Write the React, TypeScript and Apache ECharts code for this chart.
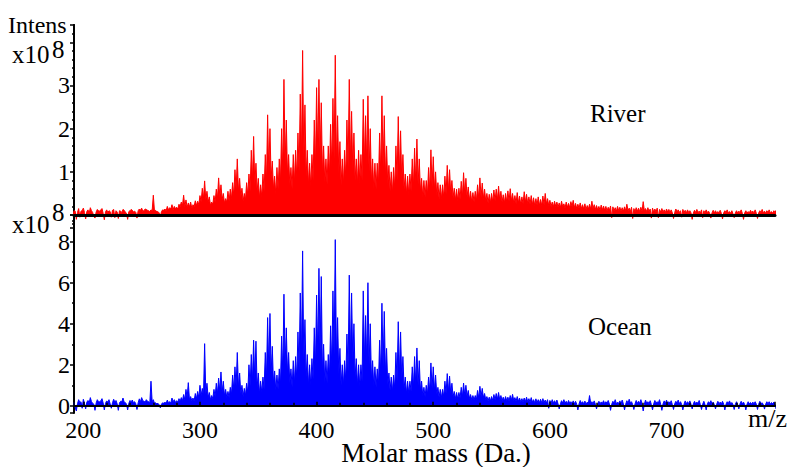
import { useEffect, useRef } from "react";
import * as echarts from "echarts";

// Mass grid of the two spectra (Da): one value every MASS_STEP starting at MASS_START
const MASS_START = 186;
const MASS_STEP = 1;

const X_TICK_LABELS = [200, 300, 400, 500, 600, 700];
const RIVER_TICK_LABELS = [1, 2, 3];
const OCEAN_TICK_LABELS = [0, 2, 4, 6, 8];

// Intensities (x10^8), one row = 14 Da
const RIVER = [
  0.13, 0.04, -0.06, 0.08, 0.16, -0.04, 0.1, 0.09, -0.1, 0.06, 0.15, -0.05, 0.09, 0.1,
  0.16, 0.06, -0.09, 0.08, 0.12, 0.04, 0.17, 0.1, 0.06, -0.03, -0.07, 0.07, 0.13, 0.1,
  0.09, 0.12, 0.15, 0.04, -0.11, 0.07, 0.12, 0.06, 0.1, 0.08, -0.05, 0.11, 0.13, -0.06,
  0.1, 0.07, -0.08, 0.1, 0.09, 0.06, 0.13, 0.11, 0.07, 0.04, -0.1, 0.08, 0.1, 0.13,
  0.11, 0.07, 0.09, 0.06, -0.07, 0.1, 0.14, 0.11, 0.16, 0.09, 0.1, 0.14, 0.13, 0.11,
  0.1, 0.08, 0.12, 0.1, 0.46, 0.09, 0.11, 0.07, 0.08, 0.05, -0.04, 0.08, 0.12, 0.11,
  0.14, 0.1, 0.2, 0.12, 0.17, 0.14, 0.24, 0.13, 0.2, 0.15, 0.18, 0.14, 0.25, 0.2,
  0.3, 0.22, 0.46, 0.2, 0.35, 0.18, 0.28, 0.19, 0.3, 0.16, 0.24, 0.2, 0.33, 0.22,
  0.32, 0.24, 0.45, 0.3, 0.62, 0.38, 0.79, 0.35, 0.55, 0.3, 0.42, 0.22, 0.3, 0.25,
  0.45, 0.3, 0.6, 0.38, 0.86, 0.42, 0.7, 0.36, 0.5, 0.28, 0.38, 0.3, 0.55, 0.32,
  0.6, 0.38, 0.75, 0.45, 1.05, 0.6, 1.3, 0.55, 0.85, 0.42, 0.62, 0.32, 0.5, 0.35,
  0.75, 0.45, 0.95, 0.55, 1.5, 0.8, 1.82, 0.7, 1.2, 0.55, 0.85, 0.4, 0.7, 0.42,
  0.95, 0.55, 1.4, 0.75, 2.32, 1.0, 2.0, 0.85, 1.25, 0.6, 0.9, 0.48, 1.1, 0.6,
  1.3, 0.75, 2.0, 1.0, 3.14, 1.2, 2.2, 0.95, 1.4, 0.7, 1.1, 0.6, 1.4, 0.75,
  1.5, 0.85, 1.9, 1.0, 2.8, 1.35, 3.81, 1.3, 2.55, 0.9, 1.5, 0.7, 1.2, 0.65,
  1.4, 0.8, 2.2, 1.1, 2.95, 1.4, 3.14, 1.35, 2.6, 0.95, 1.6, 0.75, 1.3, 0.7,
  1.6, 0.9, 2.1, 1.1, 2.7, 1.3, 3.7, 1.2, 2.3, 0.95, 1.7, 0.7, 1.3, 0.7,
  1.5, 0.85, 2.2, 1.1, 3.14, 1.25, 2.4, 1.05, 1.9, 0.8, 1.3, 0.7, 1.5, 0.75,
  1.4, 0.8, 2.68, 1.2, 2.3, 1.15, 2.76, 1.0, 2.0, 0.75, 1.3, 0.6, 1.2, 0.6,
  1.2, 0.7, 1.9, 0.95, 2.76, 1.1, 2.3, 0.9, 1.6, 0.7, 1.15, 0.55, 1.0, 0.5,
  1.1, 0.6, 1.6, 0.8, 2.28, 0.95, 1.95, 0.8, 1.4, 0.6, 0.95, 0.48, 0.9, 0.47,
  0.95, 0.55, 1.3, 0.65, 1.55, 0.75, 1.76, 0.7, 1.3, 0.55, 0.85, 0.42, 0.8, 0.42,
  0.8, 0.45, 1.1, 0.55, 1.51, 0.65, 1.35, 0.6, 1.0, 0.45, 0.75, 0.38, 0.7, 0.38,
  0.7, 0.4, 0.9, 0.48, 1.15, 0.55, 1.05, 0.5, 0.8, 0.4, 0.62, 0.34, 0.6, 0.33,
  0.62, 0.36, 0.78, 0.42, 0.98, 0.48, 0.85, 0.42, 0.65, 0.34, 0.55, 0.3, 0.52, 0.3,
  0.55, 0.32, 0.7, 0.38, 0.86, 0.42, 0.74, 0.38, 0.6, 0.32, 0.5, 0.28, 0.48, 0.28,
  0.5, 0.3, 0.58, 0.33, 0.6, 0.35, 0.67, 0.34, 0.55, 0.3, 0.47, 0.28, 0.5, 0.3,
  0.56, 0.32, 0.61, 0.33, 0.5, 0.28, 0.45, 0.27, 0.52, 0.28, 0.44, 0.25, 0.42, 0.26,
  0.54, 0.3, 0.48, 0.26, 0.42, 0.25, 0.45, 0.24, 0.4, 0.22, 0.38, 0.23, 0.42, 0.22,
  0.36, 0.22, 0.44, 0.24, 0.5, 0.26, 0.38, 0.22, 0.34, 0.2, 0.3, 0.19, 0.32, 0.2,
  0.3, 0.18, 0.28, 0.17, 0.32, 0.19, 0.26, 0.16, 0.3, 0.18, 0.27, 0.17, 0.31, 0.2,
  0.34, 0.17, 0.27, 0.15, 0.25, 0.16, 0.28, 0.15, 0.24, 0.14, 0.26, 0.13, 0.22, 0.14,
  0.25, 0.14, 0.32, 0.15, 0.24, 0.13, 0.22, 0.12, 0.2, 0.11, 0.23, 0.12, 0.21, 0.11,
  0.2, 0.1, 0.18, 0.11, 0.21, -0.06, 0.19, 0.1, 0.17, 0.09, 0.2, 0.1, 0.18, 0.09,
  0.17, 0.09, 0.19, 0.1, 0.25, 0.1, 0.16, 0.08, 0.18, -0.08, 0.15, 0.08, 0.17, 0.09,
  0.16, 0.08, 0.18, 0.09, 0.31, 0.1, 0.15, 0.08, 0.17, 0.08, 0.14, -0.07, 0.16, 0.07,
  0.14, 0.07, 0.16, -0.06, 0.13, 0.07, 0.15, 0.07, 0.12, 0.06, 0.14, 0.07, 0.13, 0.06,
  0.12, 0.05, -0.08, 0.06, 0.14, 0.07, 0.12, 0.06, 0.1, -0.05, 0.13, 0.06, 0.11, 0.05,
  0.12, 0.06, 0.1, 0.05, -0.1, 0.05, 0.11, 0.06, 0.13, 0.06, 0.09, 0.05, 0.12, -0.06,
  0.1, 0.05, 0.12, 0.06, 0.09, 0.04, -0.07, 0.05, 0.11, 0.05, 0.1, 0.04, 0.08, 0.05,
  0.11, 0.04, -0.09, 0.05, 0.1, 0.06, 0.12, 0.05, 0.08, 0.04, 0.1, 0.03, -0.06, 0.05,
  0.1, 0.05, 0.09, 0.06, 0.12, 0.04, -0.1, 0.05, 0.1, 0.04, 0.08, 0.05, 0.11, 0.06,
  0.09, 0.05, 0.12, 0.04, -0.08, 0.05, 0.1, 0.06, 0.13, 0.05, 0.09, 0.04, 0.1, 0.06,
  0.12, 0.05, 0.08, 0.04, 0.1, 0.06, 0.11, 0.05, 0.09, 0.04, 0.1, 0.05, 0.08, 0.04,
];

const OCEAN = [
  0.25, 0.08, -0.2, 0.15, 0.35, 0.12, 0.18, -0.1, -0.25, 0.1, 0.3, 0.15, 0.2, -0.12,
  0.32, 0.12, -0.15, 0.18, 0.26, 0.14, 0.4, 0.2, 0.12, 0.08, -0.22, 0.14, 0.3, 0.2,
  0.2, 0.24, 0.35, 0.14, -0.2, 0.12, 0.24, 0.18, 0.3, 0.1, -0.12, 0.15, 0.32, 0.18,
  0.26, 0.1, -0.22, 0.15, 0.22, 0.2, 0.38, 0.18, 0.16, 0.08, -0.2, 0.12, 0.26, 0.2,
  0.28, 0.15, 0.2, 0.1, -0.18, 0.15, 0.34, 0.2, 0.4, 0.25, 0.22, 0.18, 0.3, 0.22,
  0.2, 0.15, 1.2, 0.2, 0.3, 0.12, 0.15, 0.1, 0.12, 0.05, -0.1, 0.08, 0.15, 0.12,
  0.18, 0.12, 0.28, 0.15, 0.2, 0.14, 0.38, 0.2, 0.3, 0.16, 0.25, 0.18, 0.35, 0.22,
  0.4, 0.25, 0.55, 0.3, 0.8, 0.4, 1.13, 0.3, 0.45, 0.25, 0.38, 0.24, 0.6, 0.35,
  0.7, 0.4, 1.0, 0.5, 0.85, 0.45, 3.03, 0.55, 1.1, 0.4, 0.65, 0.3, 0.5, 0.35,
  0.8, 0.45, 1.1, 0.6, 1.35, 0.7, 1.65, 0.65, 1.2, 0.5, 0.8, 0.4, 0.7, 0.4,
  0.9, 0.55, 1.5, 0.8, 1.9, 0.95, 2.6, 0.9, 1.6, 0.6, 1.0, 0.45, 0.85, 0.5,
  1.1, 0.65, 2.0, 0.95, 2.5, 1.2, 3.2, 1.3, 3.15, 0.9, 1.6, 0.6, 1.2, 0.65,
  1.4, 0.8, 2.6, 1.3, 4.3, 1.8, 4.5, 1.6, 2.9, 1.1, 1.7, 0.75, 1.5, 0.8,
  1.8, 1.0, 3.4, 1.6, 5.44, 2.0, 3.8, 1.6, 2.6, 1.1, 1.8, 0.9, 2.2, 1.1,
  2.4, 1.3, 3.6, 1.8, 5.5, 2.4, 7.55, 2.2, 4.2, 1.4, 2.5, 1.0, 2.0, 1.0,
  2.3, 1.3, 3.8, 1.9, 5.4, 2.5, 6.7, 2.6, 6.3, 1.6, 3.0, 1.1, 2.2, 1.1,
  2.5, 1.4, 3.9, 1.9, 5.6, 2.5, 8.1, 2.3, 4.3, 1.5, 2.8, 1.0, 2.0, 1.0,
  2.2, 1.2, 3.5, 1.7, 6.37, 2.4, 5.5, 2.2, 4.0, 1.4, 2.3, 1.0, 2.0, 0.95,
  2.0, 1.2, 5.6, 2.2, 4.4, 2.1, 6.0, 2.0, 4.0, 1.3, 2.2, 0.95, 1.9, 0.9,
  1.8, 1.0, 3.2, 1.5, 5.0, 1.9, 4.6, 1.6, 2.8, 1.0, 1.6, 0.75, 1.4, 0.7,
  1.5, 0.85, 2.6, 1.2, 4.1, 1.5, 3.6, 1.3, 2.4, 0.85, 1.4, 0.6, 1.2, 0.6,
  1.2, 0.7, 1.9, 0.9, 2.4, 1.05, 2.82, 1.0, 2.2, 0.75, 1.2, 0.5, 0.9, 0.45,
  1.0, 0.55, 1.4, 0.7, 2.09, 0.85, 1.9, 0.75, 1.5, 0.55, 0.9, 0.42, 0.8, 0.4,
  0.8, 0.45, 1.2, 0.6, 1.57, 0.7, 1.45, 0.6, 1.1, 0.45, 0.7, 0.35, 0.65, 0.33,
  0.65, 0.38, 0.9, 0.45, 1.11, 0.52, 1.0, 0.45, 0.75, 0.36, 0.55, 0.3, 0.5, 0.28,
  0.5, 0.3, 0.75, 0.38, 0.95, 0.45, 0.85, 0.4, 0.6, 0.3, 0.45, 0.25, 0.42, 0.24,
  0.45, 0.26, 0.55, 0.3, 0.6, 0.32, 0.65, 0.3, 0.5, 0.26, 0.42, 0.24, 0.45, 0.25,
  0.42, 0.24, 0.5, 0.28, 0.56, 0.26, 0.4, 0.22, 0.45, 0.22, 0.38, 0.2, 0.35, 0.2,
  0.38, 0.2, 0.42, 0.2, 0.35, 0.18, 0.4, 0.18, 0.3, 0.15, 0.34, 0.16, 0.3, 0.15,
  0.32, 0.15, 0.35, 0.16, 0.28, 0.14, 0.3, -0.12, 0.26, 0.13, 0.3, 0.14, 0.25, 0.12,
  0.28, 0.1, -0.15, 0.1, 0.25, 0.14, 0.3, 0.12, 0.22, 0.1, 0.26, 0.12, 0.2, 0.1,
  0.24, 0.1, 0.22, 0.08, -0.2, 0.1, 0.26, 0.12, 0.2, 0.1, 0.23, 0.08, 0.18, 0.12,
  0.5, 0.12, 0.2, 0.1, 0.24, 0.08, -0.15, 0.1, 0.22, 0.1, 0.19, 0.12, 0.25, 0.1,
  0.2, 0.12, 0.26, 0.1, -0.22, 0.08, 0.22, 0.12, 0.3, 0.1, 0.18, 0.12, 0.24, 0.1,
  0.28, 0.1, -0.2, 0.08, 0.25, 0.12, 0.32, 0.14, 0.2, 0.06, -0.18, 0.1, 0.26, 0.12,
  0.22, 0.12, 0.3, 0.1, -0.25, 0.08, 0.28, 0.12, 0.2, 0.1, 0.25, 0.06, -0.2, 0.1,
  0.26, 0.12, 0.2, 0.14, 0.3, 0.08, -0.22, 0.1, 0.24, 0.12, 0.28, 0.1, 0.2, 0.12,
  0.25, 0.06, -0.18, 0.1, 0.22, 0.12, 0.28, 0.1, 0.2, 0.06, -0.2, 0.08, 0.24, 0.1,
  0.2, 0.1, 0.24, 0.08, -0.15, 0.1, 0.22, 0.1, 0.18, 0.12, 0.26, 0.06, -0.18, 0.08,
  0.22, 0.06, -0.2, 0.1, 0.2, 0.12, 0.25, 0.1, 0.18, 0.06, -0.15, 0.08, 0.22, 0.1,
  0.18, 0.1, 0.22, 0.08, -0.2, 0.08, 0.2, 0.12, 0.24, 0.1, 0.16, 0.06, -0.18, 0.08,
  0.2, 0.06, -0.15, 0.1, 0.22, 0.1, 0.18, 0.06, -0.2, 0.08, 0.2, 0.1, 0.16, 0.08,
  0.18, 0.1, 0.2, 0.08, -0.18, 0.08, 0.22, 0.1, 0.15, 0.06, -0.16, 0.08, 0.2, 0.1,
  0.2, 0.08, 0.16, 0.1, 0.18, 0.06, -0.15, 0.1, 0.2, 0.1, 0.18, 0.08, 0.15, 0.06,
];

const FONT = '"Liberation Serif", "Times New Roman", Times, serif';

export default function App() {
  const ref = useRef<HTMLDivElement>(null);

  useEffect(() => {
    if (!ref.current) return;
    const chart = echarts.init(ref.current, null, { renderer: "svg" });
    const masses = RIVER.map((_, i) => MASS_START + i * MASS_STEP);
    const riverData = masses.map((m, i) => [m, RIVER[i]]);
    const oceanData = masses.map((m, i) => [m, OCEAN[i]]);

    const black = "#000";
    const tickLine = { color: black, width: 1.5 };

    const option: any = {
      animation: false,
      backgroundColor: "#fff",
      grid: [
        { left: 74, top: 25, width: 701, height: 203 },
        { left: 74, top: 215, width: 701, height: 198 },
        { left: 74, top: 25, width: 701, height: 381 },
      ],
      xAxis: [
        {
          gridIndex: 0,
          type: "value",
          min: 192,
          max: 793,
          splitNumber: 6,
          axisLine: { show: true, onZero: true, lineStyle: { color: black, width: 3 } },
          axisTick: { show: false },
          axisLabel: { show: false },
          splitLine: { show: false },
          z: 10,
        },
        {
          gridIndex: 1,
          type: "value",
          min: 192,
          max: 793,
          splitNumber: 6,
          axisLine: { show: true, onZero: true, lineStyle: { color: black, width: 2 } },
          axisTick: { show: true, inside: true, length: 4, lineStyle: tickLine },
          minorTick: { show: true, splitNumber: 5, length: 3, lineStyle: tickLine },
          axisLabel: {
            margin: 5,
            fontSize: 24,
            fontFamily: FONT,
            color: black,
            showMinLabel: false,
            showMaxLabel: false,
            formatter: (v: number) => (X_TICK_LABELS.includes(v) ? String(v) : ""),
          },
          splitLine: { show: false },
          z: 10,
        },
        {
          gridIndex: 2,
          type: "value",
          min: 0,
          max: 1,
          position: "top",
          axisLine: { show: true, lineStyle: { color: black, width: 2 } },
          axisTick: { show: false },
          axisLabel: { show: false },
          splitLine: { show: false },
        },
      ],
      yAxis: [
        {
          gridIndex: 0,
          type: "value",
          min: -0.3,
          max: 4.4,
          splitNumber: 5,
          axisLine: { show: true, lineStyle: { color: black, width: 2 } },
          axisTick: { show: true, length: 4, lineStyle: tickLine },
          minorTick: { show: true, splitNumber: 5, length: 2, lineStyle: tickLine },
          axisLabel: {
            margin: 4,
            fontSize: 24,
            fontFamily: FONT,
            color: black,
            showMinLabel: false,
            showMaxLabel: false,
            formatter: (v: number) => (RIVER_TICK_LABELS.includes(v) ? String(v) : ""),
          },
          splitLine: { show: false },
        },
        {
          gridIndex: 1,
          type: "value",
          min: -0.35,
          max: 9.3,
          splitNumber: 5,
          axisLine: { show: true, lineStyle: { color: black, width: 2 } },
          axisTick: { show: true, length: 4, lineStyle: tickLine },
          minorTick: { show: true, splitNumber: 2, length: 2, lineStyle: tickLine },
          axisLabel: {
            margin: 4,
            fontSize: 24,
            fontFamily: FONT,
            color: black,
            showMinLabel: false,
            showMaxLabel: false,
            formatter: (v: number) => (OCEAN_TICK_LABELS.includes(v) ? String(v) : ""),
          },
          splitLine: { show: false },
        },
        {
          gridIndex: 2,
          type: "value",
          min: 0,
          max: 1,
          position: "right",
          axisLine: { show: true, lineStyle: { color: black, width: 2 } },
          axisTick: { show: false },
          axisLabel: { show: false },
          splitLine: { show: false },
        },
      ],
      series: [
        {
          name: "River",
          type: "line",
          xAxisIndex: 0,
          yAxisIndex: 0,
          data: riverData,
          showSymbol: false,
          symbol: "none",
          lineStyle: { color: "#ff0000", width: 1 },
          itemStyle: { color: "#ff0000" },
          areaStyle: { color: "#ff0000", opacity: 1 },
          z: 2,
        },
        {
          name: "Ocean",
          type: "line",
          xAxisIndex: 1,
          yAxisIndex: 1,
          data: oceanData,
          showSymbol: false,
          symbol: "none",
          lineStyle: { color: "#0000ff", width: 1 },
          itemStyle: { color: "#0000ff" },
          areaStyle: { color: "#0000ff", opacity: 1 },
          z: 2,
        },
      ],
      graphic: [
        { type: "text", x: 8, y: 25, style: { text: "Intens", fontSize: 24, fontFamily: FONT, fill: black, verticalAlign: "middle" } },
        { type: "text", x: 12, y: 54.5, style: { text: "x10", fontSize: 25, fontFamily: FONT, fill: black, verticalAlign: "middle" } },
        { type: "text", x: 52, y: 49, style: { text: "8", fontSize: 25, fontFamily: FONT, fill: black, verticalAlign: "middle" } },
        { type: "text", x: 12, y: 224.5, style: { text: "x10", fontSize: 25, fontFamily: FONT, fill: black, verticalAlign: "middle" } },
        { type: "text", x: 52, y: 212.5, style: { text: "8", fontSize: 25, fontFamily: FONT, fill: black, verticalAlign: "middle" } },
        { type: "text", x: 590, y: 113, style: { text: "River", fontSize: 25, fontFamily: FONT, fill: black, verticalAlign: "middle" } },
        { type: "text", x: 588, y: 326, style: { text: "Ocean", fontSize: 25, fontFamily: FONT, fill: black, verticalAlign: "middle" } },
        { type: "text", x: 436, y: 453, style: { text: "Molar mass (Da.)", fontSize: 27, fontFamily: FONT, fill: black, align: "center", verticalAlign: "middle" } },
        { type: "text", x: 748, y: 418, style: { text: "m/z", fontSize: 26, fontFamily: FONT, fill: black, verticalAlign: "middle" } },
      ],
    };

    chart.setOption(option);
    return () => chart.dispose();
  }, []);

  return (
    <div
      ref={ref}
      style={{ position: "absolute", left: 0, top: 0, width: 791, height: 467 }}
    />
  );
}
